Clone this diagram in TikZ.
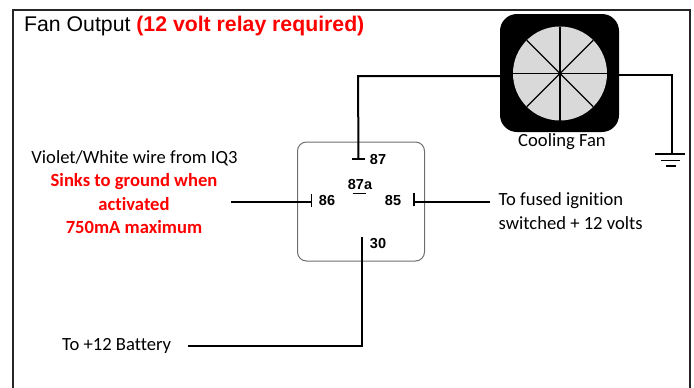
\documentclass[tikz,border=0pt]{standalone}
\usepackage{fontspec}
\setmainfont[Ligatures=NoCommon]{Carlito}
\newfontfamily\arialfont{Liberation Sans}
\definecolor{relayline}{RGB}{110,110,110}
\definecolor{fanblade}{RGB}{217,217,217}
\definecolor{alertred}{RGB}{255,0,0}
\tikzset{
  wire/.style={black, line width=2.6pt},
  thinwire/.style={black, line width=2pt},
  tick/.style={black, line width=1.2pt},
  pin/.style={font=\arialfont\bfseries\fontsize{14.5}{16}\selectfont, inner sep=0pt},
  note/.style={font=\fontsize{18.6}{21}\selectfont, inner sep=0pt},
  warn/.style={font=\bfseries\fontsize{18.6}{21}\selectfont, text=alertred, inner sep=0pt}
}
\begin{document}
\begin{tikzpicture}[x=1pt,y=-1pt]
  \useasboundingbox (0,0) rectangle (694,388);

  % Outer frame, open at the bottom
  \draw[black!85, line width=2.2pt] (13,388) -- (13,10) -- (690,10) -- (690,388);

  % Title
  \node[anchor=west, inner sep=0pt, font=\arialfont\fontsize{21.25}{24}\selectfont] (title) at (24,26)
    {Fan Output \textcolor{alertred}{\bfseries (12 volt relay required)}};

  % Relay body
  \node[draw=relayline, line width=1pt, rounded corners=9pt, minimum width=127pt, minimum height=119pt, inner sep=0pt] (relay) at (361,201.5) {};

  % Relay terminals
  \node[pin] (p87) at (378,159.5) {87};
  \node[pin] (p87a) at (360,184.5) {87a};
  \node[pin] (p86) at (327,201) {86};
  \node[pin] (p85) at (393,201) {85};
  \node[pin] (p30) at (378,244) {30};
  \coordinate (t87) at (358.5,159);
  \coordinate (t86) at (311.5,202);
  \coordinate (t85) at (414,202);
  \coordinate (t30) at (362,250);
  \draw[tick] (352,159) -- (365,159);
  \draw[tick] (352.5,193.5) -- (366,193.5);
  \draw[tick] (311.5,193.5) -- (311.5,207);
  \draw[tick] (414,192.5) -- (414,206);
  \draw[tick] (362,237) -- (t30);

  % Cooling fan
  \node[fill=black, rounded corners=17pt, minimum width=119pt, minimum height=118pt, inner sep=0pt] (fan) at (559.5,73) {};
  \coordinate (hub) at (560,73.5);
  \fill[fanblade] (hub) circle (47);
  \foreach \ang in {0,45,...,315} {
    \draw[black, line width=1.3pt] (hub) -- ++(\ang:47);
  }
  \node[note] (fanlabel) at (562,141.5) {Cooling Fan};

  % Ground symbol
  \coordinate (gnd) at (672,154);
  \draw[black, line width=2.2pt] (655,154) -- (685,154);
  \draw[black, line width=1.5pt] (661,160.5) -- (680,160.5);
  \draw[black, line width=1.5pt] (666,166) -- (676,166);

  % Labels
  \node[note] (iqwire) at (134.5,158.5) {Violet/White wire from IQ3};
  \node[warn] (sinks) at (134,181.5) {Sinks to ground when};
  \node[warn] (activated) at (134,204.5) {activated};
  \node[warn] (maxcur) at (134,227) {750mA maximum};
  \node[note, anchor=west] (fused) at (498.5,201) {To fused ignition};
  \node[note, anchor=west] (switched) at (498.5,223.5) {switched + 12 volts};
  \node[note, anchor=west] (battery) at (62,345.5) {To +12 Battery};

  % Wiring
  \coordinate (w86) at (231,202);
  \coordinate (w85) at (490,202);
  \coordinate (wbat) at (188,345.5);
  \draw[thinwire] (t87) -- (358,76) -- (fan.west |- 0,76);
  \draw[wire] (fan.east |- 0,75) -- (672,75) -- (gnd);
  \draw[wire] (w86) -- (t86);
  \draw[wire] (t85) -- (w85);
  \draw[thinwire] (t30) -- (362,345.5) -- (wbat);
\end{tikzpicture}
\end{document}
